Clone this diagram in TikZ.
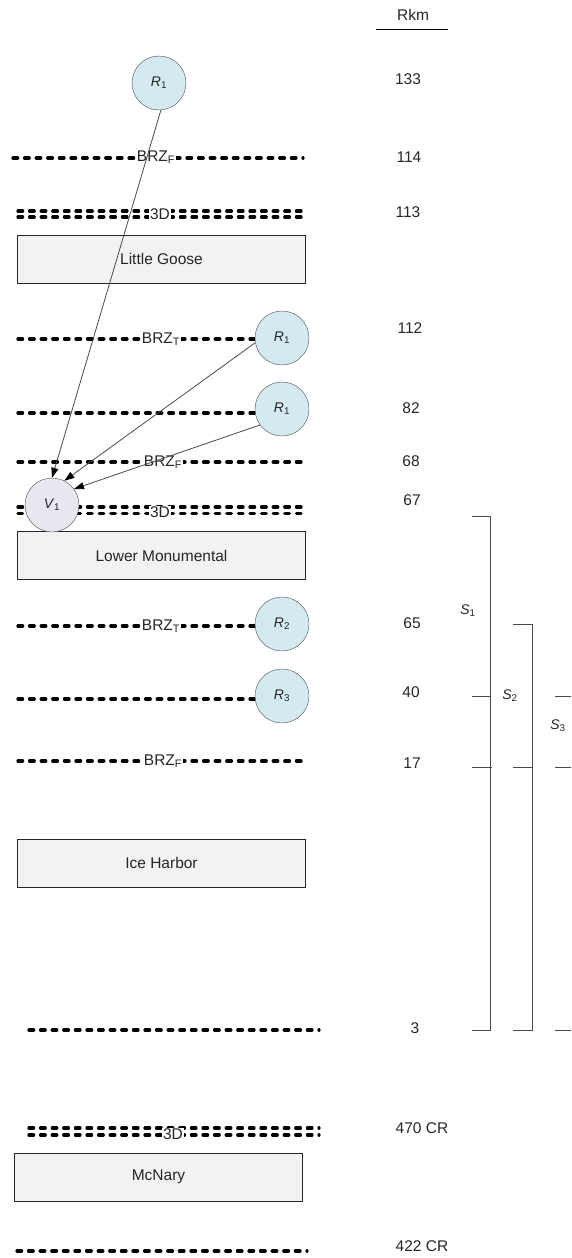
\documentclass[tikz,border=0pt]{standalone}
\usepackage{fontspec}
\setmainfont{Liberation Sans}
\usetikzlibrary{arrows.meta}

\definecolor{relfill}{HTML}{D3EAF0}
\definecolor{obsfill}{HTML}{E9E6EF}
\definecolor{damfill}{HTML}{F2F2F2}
\definecolor{edgegray}{HTML}{4A4A4A}
\definecolor{inkgray}{HTML}{262626}

% italic symbol with an upright subscript
\newcommand\symsub[2]{\textit{#1}\textsubscript{#2}}

\tikzset{
  basefont/.style={font=\fontsize{15.5}{18}\selectfont, text=inkgray},
  symfont/.style={font=\fontsize{14}{16}\selectfont, text=inkgray},
  relsite/.style={circle, draw=edgegray, fill=relfill, minimum size=54pt, inner sep=0pt, symfont},
  obssite/.style={circle, draw=edgegray, fill=obsfill, minimum size=54pt, inner sep=0pt, symfont},
  dambox/.style={draw=black!85, fill=damfill, minimum width=288pt, minimum height=48pt, inner sep=0pt, basefont},
  zoneline/.style={line width=3.3pt, dash pattern=on 4.6pt off 7pt, line cap=round},
  zonelabel/.style={fill=white, inner sep=0.6pt, basefont},
  rkmlabel/.style={basefont, inner sep=0pt},
  seglabel/.style={symfont, inner sep=0pt},
  bracketline/.style={draw=edgegray, line width=1pt},
  flow/.style={draw=edgegray, line width=0.8pt, -{Triangle[length=10pt,width=7pt,color=black,fill=black]}},
}

\begin{document}
\begin{tikzpicture}[x=1pt,y=-1pt]
\useasboundingbox (0,0) rectangle (571,1258);
\clip (0,0) rectangle (571,1258);

% ---- river-km column header ----
\node[rkmlabel] (rkmhead) at (413,15) {Rkm};
\draw[line width=1pt] (376,29) -- (448,29);

% ---- river-km values ----
\node[rkmlabel] (k133) at (408,79) {133};
\node[rkmlabel] (k114) at (409,157) {114};
\node[rkmlabel] (k113) at (408,212) {113};
\node[rkmlabel] (k112) at (410,328) {112};
\node[rkmlabel] (k82)  at (411,408) {82};
\node[rkmlabel] (k68)  at (411,461) {68};
\node[rkmlabel] (k67)  at (412,500) {67};
\node[rkmlabel] (k65)  at (412,623) {65};
\node[rkmlabel] (k40)  at (411,692) {40};
\node[rkmlabel] (k17)  at (412,763) {17};
\node[rkmlabel] (k3)   at (415,1028) {3};
\node[rkmlabel] (k470) at (422,1128) {470 CR};
\node[rkmlabel] (k422) at (422,1246) {422 CR};

% ---- detection lines ----
% Rkm 114
\draw[zoneline] (13,158) -- (303,158);
\node[zonelabel] (brzf1) at (156,157) {BRZ\textsubscript{F}};
% Rkm 113 (dam, double line)
\draw[zoneline] (18,211) -- (306,211);
\draw[zoneline] (18,217) -- (306,217);
\node[zonelabel] (dd1) at (160,214) {3D};
% Rkm 112
\draw[zoneline] (18,339) -- (256,339);
\node[zonelabel] (brzt1) at (161,339) {BRZ\textsubscript{T}};
% Rkm 82
\draw[zoneline] (18,413) -- (256,413);
% Rkm 68
\draw[zoneline] (18,462) -- (306,462);
\node[zonelabel] (brzf2) at (163,462) {BRZ\textsubscript{F}};
% Rkm 67 (dam, double line)
\draw[zoneline] (18,507) -- (306,507);
\draw[zoneline] (18,513.5) -- (306,513.5);
\node[zonelabel] (dd2) at (160,512) {3D};
% Rkm 65
\draw[zoneline] (18,626) -- (256,626);
\node[zonelabel] (brzt2) at (161,626) {BRZ\textsubscript{T}};
% Rkm 40
\draw[zoneline] (18,699) -- (256,699);
% Rkm 17
\draw[zoneline] (18,761) -- (306,761);
\node[zonelabel] (brzf3) at (163,761) {BRZ\textsubscript{F}};
% Rkm 3
\draw[zoneline] (29,1030) -- (319,1030);
% Rkm 470 CR (dam, double line)
\draw[zoneline] (29,1128) -- (319,1128);
\draw[zoneline] (29,1135) -- (319,1135);
\node[zonelabel] (dd3) at (173,1134) {3D};
% Rkm 422 CR
\draw[zoneline] (17,1251) -- (307,1251);

% ---- dams ----
\node[dambox] (goose) at (161.5,259) {Little Goose};
\node[dambox] (lmon)  at (161.5,555.5) {Lower Monumental};
\node[dambox] (iceh)  at (161.5,863) {Ice Harbor};
\node[dambox] (mcn)   at (158.5,1177) {McNary};

% ---- release and detection sites ----
\node[relsite] (r1a) at (159,83)  {\symsub{R}{1}};
\node[relsite] (r1b) at (282,338) {\symsub{R}{1}};
\node[relsite] (r1c) at (282,409) {\symsub{R}{1}};
\node[relsite] (r2)  at (282,624) {\symsub{R}{2}};
\node[relsite] (r3)  at (282,696) {\symsub{R}{3}};
\node[obssite] (v1)  at (52,505)  {\symsub{V}{1}};

% ---- movement to the observation site ----
\draw[flow] (r1a.-86) -- (v1.north);
\draw[flow] (r1b.190) -- (v1.63);
\draw[flow] (r1c.216) -- (v1.36);

% ---- reach brackets ----
\draw[bracketline] (472,516) -- (490,516) -- (490,1030) -- (472,1030);
\draw[bracketline] (472,696) -- (490,696);
\draw[bracketline] (472,767) -- (492,767);
\node[seglabel] (s1) at (468,611) {\symsub{S}{1}};

\draw[bracketline] (513,624) -- (532,624) -- (532,1030) -- (513,1030);
\draw[bracketline] (513,767) -- (532,767);
\node[seglabel] (s2) at (510,696) {\symsub{S}{2}};

\draw[bracketline] (555,696) -- (575,696);
\draw[bracketline] (555,767) -- (575,767);
\draw[bracketline] (555,1030) -- (575,1030);
\node[seglabel] (s3) at (558,726) {\symsub{S}{3}};
\end{tikzpicture}
\end{document}
